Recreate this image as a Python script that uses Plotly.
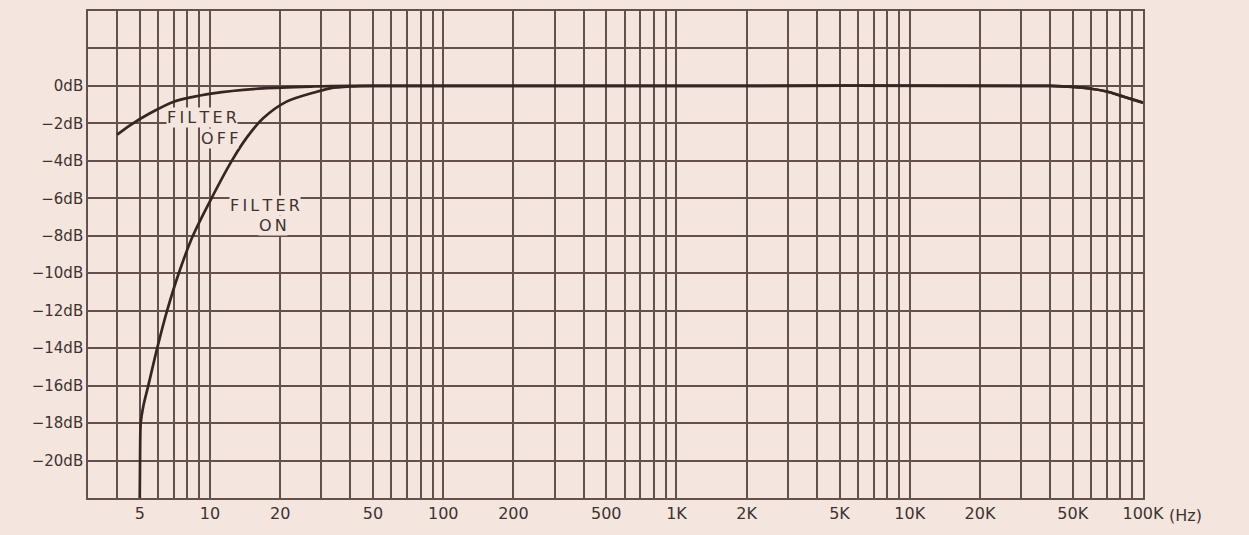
import math
import plotly.graph_objects as go

# ---- data ----
off_freq = [4, 4.54, 5.53, 7, 10.3, 16.9, 28, 40, 1000, 40000, 50000, 60000, 70000, 80000, 90000, 100000]
off_db = [-2.6, -2.1, -1.46, -0.84, -0.4, -0.13, -0.03, 0, 0, 0, -0.05, -0.15, -0.3, -0.52, -0.72, -0.9]

on_freq = [5.0, 5.02, 5.05, 5.2, 5.44, 5.94, 6.55, 7.35, 8.45, 10.15, 12.4, 14.4, 16.9, 21.3, 28.7, 32.7, 40, 50,
           1000, 40000, 50000, 60000, 70000, 80000, 90000, 100000]
on_db = [-22, -19.3, -18.0, -17.0, -16.0, -14.0, -12.0, -10.0, -8.0, -6.0, -4.0, -2.75, -1.73, -0.84, -0.31, -0.13, -0.03, 0,
         0, 0, -0.05, -0.15, -0.3, -0.52, -0.72, -0.9]

x_grid = [m * 10 ** d for d in range(0, 5) for m in range(1, 10) if 3 <= m * 10 ** d <= 100000] + [100000]
x_labels = {5: "5", 10: "10", 20: "20", 50: "50", 100: "100", 200: "200", 500: "500",
            1000: "1K", 2000: "2K", 5000: "5K", 10000: "10K", 20000: "20K", 50000: "50K", 100000: "100K"}
y_grid = list(range(-22, 5, 2))
y_labels = {v: ("0dB" if v == 0 else "\u2212%ddB" % (-v)) for v in range(-20, 1, 2)}

BG = "#f4e6df"
GRID = "#64514d"
INK = "#352624"
TXT = "#3e3230"
FONT = "DejaVu Sans"

fig = go.Figure()
fig.add_trace(go.Scatter(x=off_freq, y=off_db, mode="lines",
                         line=dict(color=INK, width=2.7, shape="spline", smoothing=0.8),
                         showlegend=False, hoverinfo="skip"))
fig.add_trace(go.Scatter(x=on_freq, y=on_db, mode="lines",
                         line=dict(color=INK, width=2.7, shape="spline", smoothing=0.8),
                         showlegend=False, hoverinfo="skip"))

fig.update_xaxes(type="log", range=[math.log10(3), 5],
                 tickvals=x_grid, ticktext=[x_labels.get(v, "") for v in x_grid],
                 showgrid=True, gridcolor=GRID, gridwidth=1.5,
                 showline=True, linecolor=GRID, linewidth=1.6, mirror=True,
                 ticks="", zeroline=False,
                 tickfont=dict(family=FONT, size=16, color=TXT))
fig.update_yaxes(range=[-22, 4],
                 tickvals=y_grid, ticktext=[y_labels.get(v, "") for v in y_grid],
                 showgrid=True, gridcolor=GRID, gridwidth=1.5,
                 showline=True, linecolor=GRID, linewidth=1.6, mirror=True,
                 ticks="", zeroline=False,
                 tickfont=dict(family=FONT, size=15, color=TXT))

ts = "\u2009"
def spaced(s):
    return ts.join(list(s))

ann = [
    (0.966, -1.69, spaced("FILTER")),
    (1.039, -2.80, spaced("OFF")),
    (1.236, -6.37, spaced("FILTER")),
    (1.270, -7.43, spaced("ON")),
]
for ax, ay, t in ann:
    fig.add_annotation(x=ax, y=ay, xref="x", yref="y", text=t, showarrow=False,
                       font=dict(family=FONT, size=16, color=TXT), bgcolor=BG, borderpad=0)

fig.add_annotation(x=1, y=0, xref="paper", yref="paper", xanchor="left", yanchor="top",
                   xshift=24, yshift=-6, text="(Hz)", showarrow=False,
                   font=dict(family=FONT, size=16, color=TXT))

fig.update_layout(width=1249, height=535, autosize=False,
                  margin=dict(l=88, r=106, t=9, b=37),
                  paper_bgcolor=BG, plot_bgcolor=BG)

fig.write_html("out.html", config={"displayModeBar": False},
               post_script="document.body.style.margin='0';document.body.style.overflow='hidden';"
                           "document.body.style.background='%s';" % BG)
